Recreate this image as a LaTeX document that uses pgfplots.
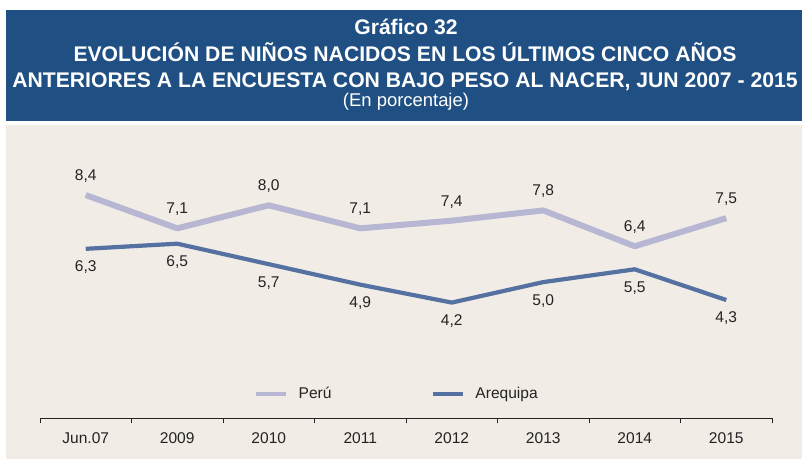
\documentclass[border=0pt]{standalone}
\usepackage{pgfplots}
\pgfplotsset{compat=1.18}
\usepackage{fontspec}
\setmainfont{Liberation Sans}
\definecolor{hdrblue}{RGB}{32,80,131}
\definecolor{beige}{RGB}{241,237,230}
\definecolor{peru}{RGB}{183,182,211}
\definecolor{areq}{RGB}{84,113,162}
\definecolor{txt}{RGB}{35,35,35}
\begin{document}
\begin{tikzpicture}[x=1bp,y=1bp]
\useasboundingbox (0,0) rectangle (802,459);
\fill[white] (0,0) rectangle (802,459);
\fill[hdrblue] (6,338.3) rectangle (802,449);
\fill[beige] (6,0) rectangle (802,334);
\node[white,anchor=base,font=\bfseries\fontsize{21.2}{24}\selectfont] at (406,424) {Gráfico 32};
\node[white,anchor=base,font=\bfseries\fontsize{21.25}{24}\selectfont] at (405,397.3) {EVOLUCIÓN DE NIÑOS NACIDOS EN LOS ÚLTIMOS CINCO AÑOS};
\node[white,anchor=base,font=\bfseries\fontsize{21.25}{24}\selectfont] at (405,371.3) {ANTERIORES A LA ENCUESTA CON BAJO PESO AL NACER, JUN 2007 - 2015};
\node[white,anchor=base,font=\fontsize{18.5}{22}\selectfont] at (406,352.3) {(En porcentaje)};
\begin{axis}[
  at={(40bp,40.7bp)}, anchor=south west,
  x=91.5bp, y=25.6bp,
  xmin=-0.5, xmax=7.5, ymin=-0.32, ymax=10,
  axis y line=none,
  axis x line*=bottom,
  axis line style={draw=txt, line width=1.2bp, -},
  xtick={0,...,7},
  xticklabels={Jun.07,2009,2010,2011,2012,2013,2014,2015},
  minor xtick={-0.5,0.5,...,7.5},
  major tick length=0pt,
  minor tick length=5bp,
  tick align=outside,
  minor tick style={draw=txt, line width=1bp},
  xticklabel style={anchor=base, yshift=-25.3bp, font=\fontsize{15.6}{18}\selectfont, text=txt},
  clip=false,
  /pgf/number format/assume math mode=true,
  /pgf/number format/.cd, use comma, fixed, fixed zerofill, precision=1,
  /pgfplots/.cd,
  nodes near coords,
  every node near coord/.append style={font=\fontsize{15.6}{18}\selectfont, text=txt, anchor=center},
  legend columns=2,
  legend style={draw=none, fill=none, at={(rel axis cs:0.2923,0.092)}, anchor=west, inner sep=0pt,
    font=\fontsize{15.6}{18}\selectfont, text=txt,
    /tikz/every odd column/.append style={column sep=8bp},
    /tikz/every even column/.append style={column sep=98bp}},
  legend image code/.code={\draw[#1] (0bp,0bp) -- (30bp,0bp);},
]
\addplot[peru, line width=6bp, line join=round, every node near coord/.append style={yshift=19bp},
  legend image post style={line width=4.5bp}]
  coordinates {(0,8.4) (1,7.1) (2,8.0) (3,7.1) (4,7.4) (5,7.8) (6,6.4) (7,7.5)};
\addlegendentry{Perú}
\addplot[areq, line width=4.2bp, line join=round, every node near coord/.append style={yshift=-18.5bp},
  legend image post style={line width=4bp}]
  coordinates {(0,6.3) (1,6.5) (2,5.7) (3,4.9) (4,4.2) (5,5.0) (6,5.5) (7,4.3)};
\addlegendentry{Arequipa}
\end{axis}
\end{tikzpicture}
\end{document}
